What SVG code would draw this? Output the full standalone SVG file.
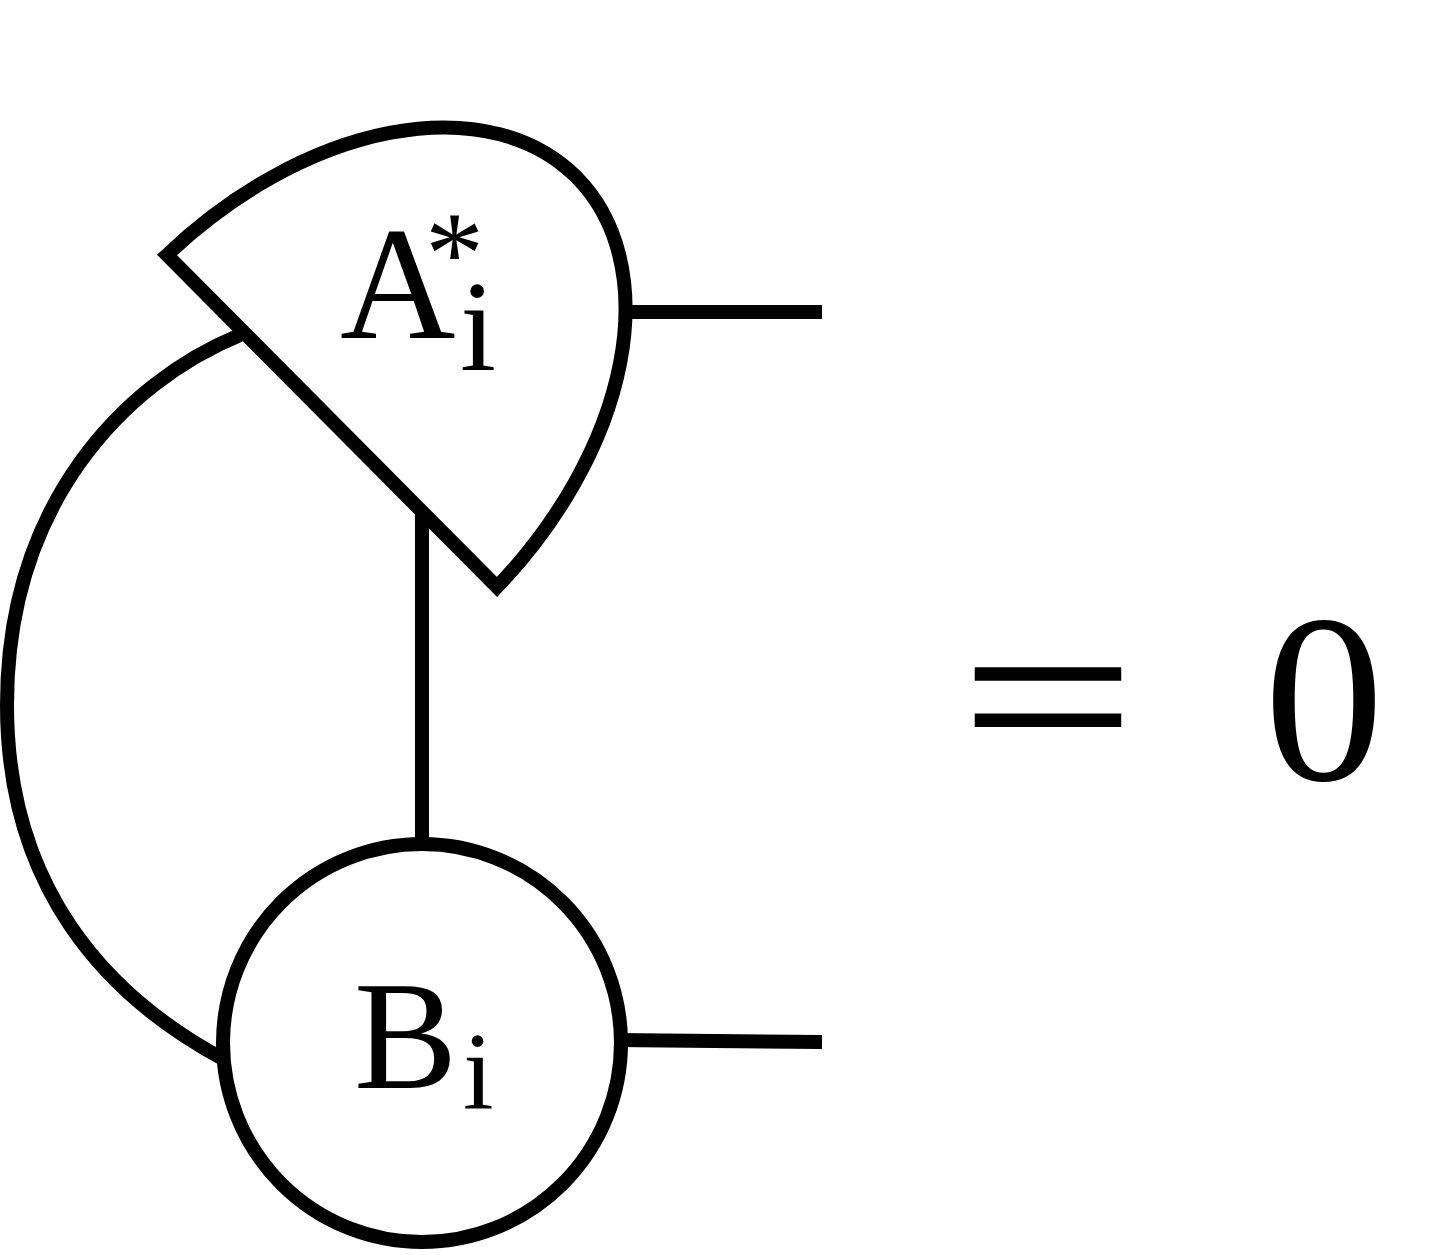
<svg xmlns="http://www.w3.org/2000/svg" width="1430" height="1255" viewBox="0 0 1430 1255">
<style>
.ln{fill:none;stroke:#000;stroke-width:14;stroke-linecap:butt}
.nd{fill:#fff;stroke:#000;stroke-width:14;stroke-linejoin:miter;stroke-miterlimit:10}
.t{fill:#000;font-family:"Liberation Serif",serif}
</style>
<rect width="1430" height="1255" fill="#fff"/>
<g id="connectors">
<path class="ln" d="M240,335 C123,383 7,505 7,705 C7,885 103,995 225,1060"/>
<line class="ln" x1="422" y1="505" x2="422" y2="850"/>
<line class="ln" x1="620" y1="312" x2="822" y2="312"/>
<line class="ln" x1="615" y1="1040" x2="822" y2="1042"/>
</g>
<g id="nodeA">
<path class="nd" d="M167,255 A234.2,358 45 0 1 497,587 Z"/>
<text class="t" x="340" y="338" font-size="160">A</text>
<text class="t" x="425" y="293" font-size="118">*</text>
<text class="t" x="460" y="370" font-size="130">i</text>
</g>
<g id="nodeB">
<circle class="nd" cx="422" cy="1043" r="199"/>
<text class="t" x="354" y="1088" font-size="155">B</text>
<text class="t" x="463" y="1108" font-size="110">i</text>
</g>
<g id="equals">
<text x="0" y="0" font-family="Liberation Sans, sans-serif" font-size="185" transform="translate(960,758) scale(1.63,1)">=</text>
<text class="t" x="1264" y="780" font-size="240">0</text>
</g>
</svg>
